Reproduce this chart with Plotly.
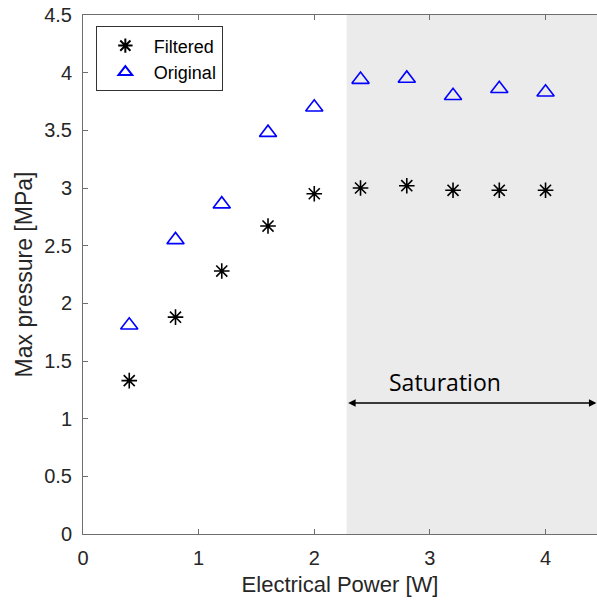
import plotly.graph_objects as go

# Electrical power (W) and measured peak pressure (MPa)
power = [0.4, 0.8, 1.2, 1.6, 2.0, 2.4, 2.8, 3.2, 3.6, 4.0]
filtered = [1.33, 1.88, 2.28, 2.67, 2.95, 3.00, 3.02, 2.98, 2.98, 2.98]
original = [1.81, 2.55, 2.86, 3.48, 3.70, 3.94, 3.95, 3.80, 3.86, 3.83]

saturation_start = 2.28
saturation_label = "Saturation"
x_max = 4.445
y_max = 4.5

AXIS_FONT = "Liberation Sans, Arial, sans-serif"
TEXT_GRAY = "#262626"
LINE_GRAY = "#6e6e6e"

fig = go.Figure()

fig.add_trace(go.Scatter(
    x=power, y=filtered, mode="markers", name="Filtered",
    marker=dict(symbol="asterisk-open", size=13, color="black",
                line=dict(color="black", width=1.6)),
))
fig.add_trace(go.Scatter(
    x=power, y=original, mode="markers", name="Original",
    marker=dict(symbol="triangle-up-open", size=15, color="#0000ff",
                line=dict(color="#0000ff", width=1.6)),
))

# shaded saturation region
fig.add_shape(type="rect", xref="x", yref="y",
              x0=saturation_start, x1=x_max, y0=0, y1=y_max,
              fillcolor="#ebebeb", line=dict(width=0), layer="below")

# double-headed arrow spanning the saturation region
fig.add_annotation(x=x_max - 0.005, y=1.135, ax=saturation_start, ay=1.135,
                   xref="x", yref="y", axref="x", ayref="y",
                   text="", showarrow=True, arrowhead=2, startarrowhead=2,
                   arrowside="end+start", arrowsize=1, arrowwidth=1.5,
                   arrowcolor="black")
fig.add_annotation(x=3.13, y=1.32, xref="x", yref="y", text=saturation_label,
                   showarrow=False,
                   font=dict(family="Open Sans, sans-serif", size=23, color="black"))

fig.update_layout(
    width=597, height=608,
    margin=dict(l=83, r=0, t=15, b=74),
    paper_bgcolor="white", plot_bgcolor="white",
    font=dict(family=AXIS_FONT, color=TEXT_GRAY),
    showlegend=True,
    legend=dict(x=0.025, y=0.978, xanchor="left", yanchor="top",
                bgcolor="white", bordercolor="#333333", borderwidth=1,
                font=dict(family=AXIS_FONT, size=18, color="black"),
                itemwidth=47, itemsizing="constant", tracegroupgap=0),
)

fig.update_xaxes(
    range=[0, x_max], tickmode="array", tickvals=[0, 1, 2, 3, 4],
    ticks="inside", ticklen=5, tickcolor=LINE_GRAY, tickwidth=1,
    showline=True, linecolor=LINE_GRAY, linewidth=1, mirror="ticks",
    showgrid=False, zeroline=False,
    tickfont=dict(size=20, color=TEXT_GRAY, family=AXIS_FONT),
    ticklabelstandoff=6,
    title=dict(text="Electrical Power [W]", standoff=8,
               font=dict(size=22, color=TEXT_GRAY, family=AXIS_FONT)),
)
fig.update_yaxes(
    range=[0, y_max], dtick=0.5, tick0=0,
    ticks="inside", ticklen=5, tickcolor=LINE_GRAY, tickwidth=1,
    showline=True, linecolor=LINE_GRAY, linewidth=1, mirror=False,
    showgrid=False, zeroline=False,
    tickfont=dict(size=20, color=TEXT_GRAY, family=AXIS_FONT),
    ticklabelstandoff=6,
    title=dict(text="Max pressure [MPa]", standoff=5,
               font=dict(size=23, color=TEXT_GRAY, family=AXIS_FONT)),
)

fig.write_html("out.html")
